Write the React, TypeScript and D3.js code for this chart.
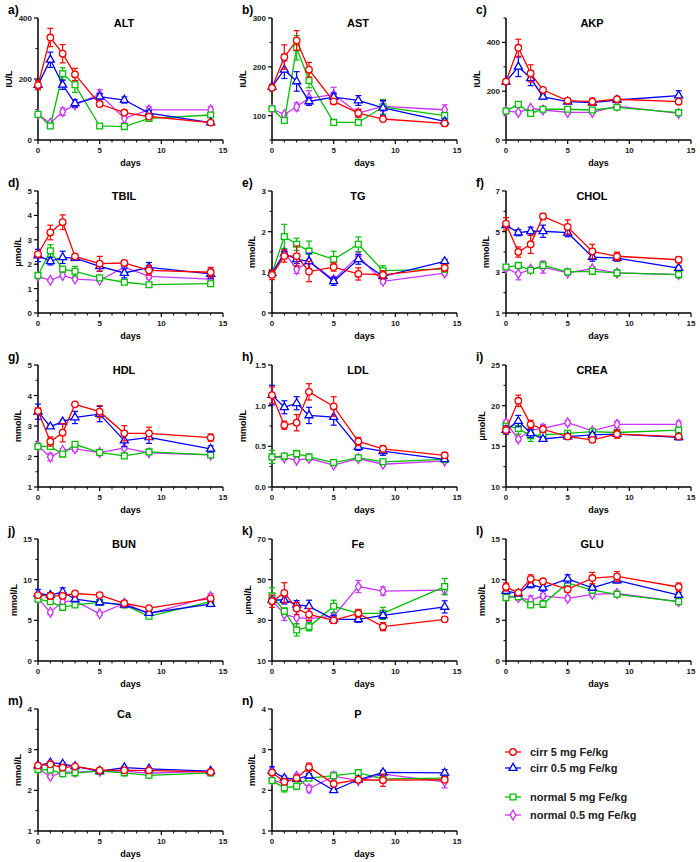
import React from 'react';
import * as d3 from 'd3';

// ---------- data ----------
const days = [0, 1, 2, 3, 5, 7, 9, 14];
const seriesNames = ['cirr 5 mg Fe/kg', 'cirr 0.5 mg Fe/kg', 'normal 5 mg Fe/kg', 'normal 0.5 mg Fe/kg'];

// each: [cirr 5, cirr 0.5, normal 5, normal 0.5]
const altMean = [[180, 336, 283, 215, 118, 90, 77, 57], [180, 263, 181, 120, 142, 131, 88, 57], [84, 46, 217, 181, 46, 44, 71, 82], [84, 55, 93, 115, 150, 71, 99, 99]];
const altErr = [[15, 30, 30, 20, 8, 5, 5, 5], [10, 25, 15, 12, 10, 10, 8, 5], [5, 5, 20, 25, 3, 3, 8, 8], [5, 5, 12, 8, 15, 15, 10, 10]];

const astMean = [[157, 220, 254, 194, 129, 105, 93, 84], [159, 194, 170, 129, 138, 131, 116, 88], [114, 90, 239, 172, 86, 86, 118, 100], [114, 102, 118, 136, 143, 105, 119, 112]];
const astErr = [[5, 25, 20, 15, 5, 8, 3, 5], [5, 18, 20, 8, 8, 10, 15, 5], [5, 5, 25, 15, 3, 5, 15, 5], [5, 3, 8, 15, 15, 8, 10, 10]];

const akpMean = [[239, 378, 273, 205, 161, 157, 167, 157], [239, 300, 253, 177, 157, 153, 164, 182], [119, 146, 109, 126, 126, 123, 134, 112], [119, 113, 130, 123, 113, 113, 139, 109]];
const akpErr = [[10, 35, 35, 8, 5, 15, 10, 8], [8, 40, 30, 10, 5, 10, 8, 20], [5, 8, 10, 5, 5, 5, 5, 5], [5, 5, 5, 5, 5, 5, 5, 5]];

const tbilMean = [[2.41, 3.3, 3.72, 2.32, 2.02, 2.05, 1.75, 1.67], [2.36, 2.12, 2.28, 2.25, 1.91, 1.64, 1.87, 1.6], [1.54, 2.55, 1.8, 1.71, 1.44, 1.26, 1.16, 1.2], [1.5, 1.34, 1.54, 1.39, 1.34, 1.88, 1.5, 1.39]];
const tbilErr = [[0.1, 0.3, 0.3, 0.1, 0.3, 0.1, 0.2, 0.2], [0.25, 0.15, 0.25, 0.1, 0.2, 0.2, 0.2, 0.2], [0.05, 0.25, 0.05, 0.2, 0.05, 0.05, 0.05, 0.05], [0.05, 0.05, 0.05, 0.05, 0.05, 0.05, 0.1, 0.05]];

const tgMean = [[0.94, 1.4, 1.4, 1.02, 1.13, 0.96, 0.94, 1.11], [0.98, 1.46, 1.32, 1.27, 0.78, 1.32, 0.9, 1.27], [0.98, 1.88, 1.69, 1.52, 1.32, 1.69, 1.04, 1.08], [0.96, 1.5, 1.07, 1.27, 0.82, 1.4, 0.78, 0.98]];
const tgErr = [[0.12, 0.15, 0.25, 0.25, 0.1, 0.15, 0.1, 0.08], [0.05, 0.05, 0.1, 0.2, 0.1, 0.12, 0.05, 0.05], [0.05, 0.3, 0.15, 0.25, 0.2, 0.18, 0.12, 0.05], [0.05, 0.05, 0.1, 0.05, 0.05, 0.1, 0.05, 0.05]];

const cholMean = [[5.39, 4.0, 4.38, 5.75, 5.23, 4.03, 3.79, 3.62], [5.31, 4.95, 5.02, 5.02, 4.95, 3.75, 3.7, 3.21], [3.26, 3.34, 3.1, 3.34, 3.02, 3.05, 2.97, 2.89], [3.21, 2.93, 3.15, 3.26, 2.97, 3.18, 2.97, 2.89]];
const cholErr = [[0.3, 0.25, 0.45, 0.15, 0.35, 0.35, 0.2, 0.15], [0.1, 0.15, 0.2, 0.3, 0.2, 0.2, 0.15, 0.1], [0.1, 0.1, 0.1, 0.15, 0.1, 0.1, 0.15, 0.15], [0.1, 0.3, 0.1, 0.3, 0.1, 0.1, 0.1, 0.1]];

const hdlMean = [[3.49, 2.49, 2.78, 3.71, 3.47, 2.76, 2.76, 2.62], [3.47, 2.98, 3.14, 3.28, 3.39, 2.52, 2.63, 2.25], [2.33, 2.33, 2.08, 2.4, 2.13, 2.02, 2.15, 2.05], [2.35, 1.98, 2.2, 2.25, 2.13, 2.28, 2.12, 2.05]];
const hdlErr = [[0.1, 0.15, 0.3, 0.05, 0.2, 0.25, 0.2, 0.12], [0.25, 0.05, 0.05, 0.2, 0.25, 0.2, 0.2, 0.1], [0.05, 0.05, 0.05, 0.05, 0.05, 0.05, 0.05, 0.05], [0.05, 0.12, 0.05, 0.08, 0.05, 0.05, 0.05, 0.05]];

const ldlMean = [[1.13, 0.76, 0.79, 1.17, 0.99, 0.56, 0.47, 0.39], [1.13, 0.98, 1.03, 0.88, 0.86, 0.49, 0.44, 0.34], [0.37, 0.38, 0.41, 0.37, 0.3, 0.36, 0.31, 0.34], [0.37, 0.36, 0.33, 0.35, 0.27, 0.35, 0.28, 0.32]];
const ldlErr = [[0.1, 0.05, 0.1, 0.1, 0.12, 0.05, 0.04, 0.03], [0.12, 0.08, 0.08, 0.1, 0.1, 0.04, 0.05, 0.02], [0.08, 0.02, 0.04, 0.02, 0.02, 0.02, 0.02, 0.02], [0.02, 0.02, 0.02, 0.02, 0.02, 0.02, 0.02, 0.02]];

const creaMean = [[17.0, 20.6, 17.7, 17.1, 16.2, 15.8, 16.5, 16.2], [17.0, 18.1, 16.6, 15.9, 16.2, 16.4, 16.5, 16.1], [17.5, 17.2, 16.3, 16.4, 16.6, 16.8, 16.7, 17.0], [17.9, 15.9, 17.0, 17.2, 17.9, 16.9, 17.7, 17.7]];
const creaErr = [[0.4, 0.7, 0.5, 0.4, 0.3, 0.3, 0.5, 0.3], [0.5, 0.7, 0.5, 0.3, 0.3, 0.3, 0.3, 0.3], [0.3, 0.7, 0.7, 0.3, 0.3, 0.3, 0.3, 0.3], [0.3, 0.3, 0.3, 0.5, 0.3, 0.3, 0.4, 0.4]];

const bunMean = [[8.1, 8.0, 8.0, 8.3, 8.1, 7.1, 6.5, 7.7], [8.3, 8.1, 8.5, 7.6, 7.2, 6.9, 5.9, 7.0], [7.6, 7.3, 6.6, 6.9, 7.2, 6.9, 5.5, 7.3], [7.7, 6.0, 7.3, 7.4, 5.8, 7.1, 5.8, 7.9]];
const bunErr = [[0.3, 0.4, 0.3, 0.2, 0.3, 0.2, 0.2, 0.3], [0.5, 0.3, 0.5, 0.3, 0.3, 0.2, 0.2, 0.3], [0.3, 0.3, 0.3, 0.2, 0.3, 0.2, 0.2, 0.3], [0.3, 0.3, 0.3, 0.2, 0.2, 0.3, 0.2, 0.4]];

const feMean = [[39.4, 43.5, 35.8, 32.9, 30.0, 33.4, 26.9, 30.5], [40, 40, 37.7, 36.9, 30.5, 30.5, 32.4, 36.6], [42, 34.5, 25.3, 26.8, 36.9, 33.4, 33.4, 46.6], [40, 32.9, 31.3, 30.8, 32.1, 46.6, 44.4, 44.9]];
const feErr = [[3, 5, 3, 3, 1.5, 2, 2, 1], [1, 2, 2, 3, 2, 1.5, 1.5, 3], [4, 1.5, 3, 2, 3, 1.5, 3, 4], [2, 3, 3, 1.5, 1.5, 3, 2, 2]];

const gluMean = [[9.1, 8.4, 10.1, 9.8, 8.8, 10.2, 10.4, 9.1], [8.6, 8.3, 9.4, 9.0, 10.1, 9.0, 9.9, 8.1], [7.8, 7.9, 6.9, 7.0, 9.6, 8.7, 8.2, 7.3], [8.0, 7.8, 7.5, 8.0, 7.7, 8.2, 8.3, 7.3]];
const gluErr = [[0.5, 0.3, 0.5, 0.3, 0.3, 0.7, 0.6, 0.5], [0.3, 0.3, 0.4, 0.4, 0.5, 0.3, 0.3, 0.3], [0.3, 0.3, 0.3, 0.4, 0.6, 0.4, 0.3, 0.3], [0.3, 0.3, 0.5, 0.3, 0.3, 0.3, 0.3, 0.3]];

const caMean = [[2.61, 2.64, 2.56, 2.59, 2.49, 2.49, 2.49, 2.45], [2.61, 2.68, 2.65, 2.59, 2.47, 2.56, 2.53, 2.47], [2.51, 2.5, 2.41, 2.43, 2.47, 2.43, 2.37, 2.43], [2.53, 2.34, 2.45, 2.45, 2.47, 2.47, 2.42, 2.47]];
const caErr = [[0.03, 0.03, 0.03, 0.03, 0.03, 0.03, 0.03, 0.03], [0.03, 0.03, 0.03, 0.03, 0.03, 0.03, 0.03, 0.03], [0.03, 0.03, 0.03, 0.03, 0.03, 0.03, 0.03, 0.03], [0.03, 0.03, 0.03, 0.03, 0.03, 0.03, 0.03, 0.03]];

const pMean = [[2.44, 2.21, 2.3, 2.57, 2.16, 2.26, 2.25, 2.26], [2.48, 2.3, 2.28, 2.36, 2.0, 2.26, 2.44, 2.43], [2.24, 2.06, 2.1, 2.3, 2.36, 2.43, 2.28, 2.3], [2.26, 2.16, 2.35, 2.04, 2.35, 2.24, 2.4, 2.21]];
const pErr = [[0.05, 0.05, 0.05, 0.1, 0.05, 0.05, 0.15, 0.05], [0.1, 0.05, 0.05, 0.05, 0.05, 0.05, 0.05, 0.08], [0.05, 0.1, 0.08, 0.05, 0.05, 0.08, 0.05, 0.05], [0.05, 0.05, 0.05, 0.08, 0.1, 0.05, 0.05, 0.15]];

const panelLetters = ['a)', 'b)', 'c)', 'd)', 'e)', 'f)', 'g)', 'h)', 'i)', 'j)', 'k)', 'l)', 'm)', 'n)'];
const panelTitles = ['ALT', 'AST', 'AKP', 'TBIL', 'TG', 'CHOL', 'HDL', 'LDL', 'CREA', 'BUN', 'Fe', 'GLU', 'Ca', 'P'];
const panelUnits = ['IU/L', 'IU/L', 'IU/L', 'μmol/L', 'mmol/L', 'mmol/L', 'mmol/L', 'mmol/L', 'μmol/L', 'mmol/L', 'μmol/L', 'mmol/L', 'mmol/L', 'mmol/L'];
const yDomains = [[0, 400], [50, 300], [0, 500], [0, 5], [0, 3], [1, 7], [1, 5], [0, 1.5], [10, 25], [0, 15], [10, 70], [0, 15], [1, 4], [1, 4]];
const yTicks = [[0, 200, 400], [100, 200, 300], [0, 200, 400], [0, 1, 2, 3, 4, 5], [0, 1, 2, 3], [1, 3, 5, 7], [1, 2, 3, 4, 5], [0, 0.5, 1, 1.5], [10, 15, 20, 25], [0, 5, 10, 15], [10, 30, 50, 70], [0, 5, 10, 15], [1, 2, 3, 4], [1, 2, 3, 4]];
const yTickFormats = ['d', 'd', 'd', 'd', 'd', 'd', 'd', '.1f', 'd', 'd', 'd', 'd', 'd', 'd'];
const xTicks = [0, 5, 10, 15];
const panelMeans = [altMean, astMean, akpMean, tbilMean, tgMean, cholMean, hdlMean, ldlMean, creaMean, bunMean, feMean, gluMean, caMean, pMean];
const panelErrs = [altErr, astErr, akpErr, tbilErr, tgErr, cholErr, hdlErr, ldlErr, creaErr, bunErr, feErr, gluErr, caErr, pErr];

// ---------- styles / layout ----------
const COLORS = ['#ff0000', '#0000ff', '#00c000', '#cc33ff'];
const SYMBOLS = [d3.symbolCircle, d3.symbolTriangle, d3.symbolSquare, d3.symbolDiamond];
const SYMBOL_SIZES = [34, 28, 34, 28];
const FONT = '"Liberation Sans", Arial, sans-serif';
const colX = [38, 272, 506];
const rowTop = [18, 191, 365, 539, 709];
const plotW = 185;
const plotH = 122;

function Panel({ idx }: { idx: number }) {
  const col = idx % 3;
  const row = Math.floor(idx / 3);
  const x0 = colX[col];
  const top = rowTop[row];
  const bottom = top + plotH;
  const dom = yDomains[idx];
  const x = d3.scaleLinear().domain([0, 15]).range([x0, x0 + plotW]);
  const y = d3.scaleLinear().domain(dom).range([bottom, top]);
  const major = yTicks[idx];
  const minor: number[] = [];
  for (let i = 0; i < major.length - 1; i++) minor.push((major[i] + major[i + 1]) / 2);
  if (dom[0] < major[0]) minor.push(dom[0]);
  if (dom[1] > major[major.length - 1]) minor.push(dom[1]);
  const fmt = d3.format(yTickFormats[idx]);
  const maxLen = d3.max(major, (t) => fmt(t).length) as number;
  const labelX = x0 - (8 + 4.6 * maxLen + 4);
  const xMinor = d3.range(0, 16).filter((d) => d % 5 !== 0);
  const line = d3.line<number>().x((_, i) => x(days[i])).y((v) => y(v));
  const means = panelMeans[idx];
  const errs = panelErrs[idx];
  const order = [3, 2, 1, 0];
  return (
    <g>
      <text x={x0 - 30} y={top - 4} fontSize={12} fontWeight="bold" fontFamily={FONT}>{panelLetters[idx]}</text>
      <text x={x0 + 86} y={top + 9} fontSize={11} fontWeight="bold" fontFamily={FONT} textAnchor="middle">{panelTitles[idx]}</text>
      <text transform={`translate(${labelX},${(top + bottom) / 2}) rotate(-90)`} fontSize={9} fontWeight="bold" fontFamily={FONT} textAnchor="middle">{panelUnits[idx]}</text>
      {/* axes */}
      <line x1={x0} x2={x0} y1={top} y2={bottom} stroke="#000" strokeWidth={1.5} />
      <line x1={x0} x2={x0 + plotW} y1={bottom} y2={bottom} stroke="#000" strokeWidth={1.5} />
      {major.map((t) => (
        <g key={'ym' + t}>
          <line x1={x0 - 4} x2={x0} y1={y(t)} y2={y(t)} stroke="#000" strokeWidth={1.2} />
          <text x={x0 - 6} y={y(t) + 3} fontSize={8} fontWeight="bold" fontFamily={FONT} textAnchor="end" fill="#222">{fmt(t)}</text>
        </g>
      ))}
      {minor.map((t) => (
        <line key={'yn' + t} x1={x0 - 2.5} x2={x0} y1={y(t)} y2={y(t)} stroke="#000" strokeWidth={1} />
      ))}
      {xTicks.map((t) => (
        <g key={'xm' + t}>
          <line x1={x(t)} x2={x(t)} y1={bottom} y2={bottom + 4} stroke="#000" strokeWidth={1.2} />
          <text x={x(t)} y={bottom + 13} fontSize={8} fontWeight="bold" fontFamily={FONT} textAnchor="middle" fill="#222">{t}</text>
        </g>
      ))}
      {xMinor.map((t) => (
        <line key={'xn' + t} x1={x(t)} x2={x(t)} y1={bottom} y2={bottom + 2.5} stroke="#000" strokeWidth={1} />
      ))}
      <text x={x(7.5)} y={bottom + 26} fontSize={9} fontWeight="bold" fontFamily={FONT} textAnchor="middle">days</text>
      {/* series */}
      {order.map((s) => (
        <g key={'s' + s}>
          <path d={line(means[s]) || ''} fill="none" stroke={COLORS[s]} strokeWidth={1.3} />
          {means[s].map((v, i) => {
            const cx = x(days[i]);
            const e = errs[s][i];
            return (
              <g key={i}>
                <line x1={cx} x2={cx} y1={y(v - e)} y2={y(v + e)} stroke={COLORS[s]} strokeWidth={1.2} />
                <line x1={cx - 3} x2={cx + 3} y1={y(v + e)} y2={y(v + e)} stroke={COLORS[s]} strokeWidth={1.2} />
                <line x1={cx - 3} x2={cx + 3} y1={y(v - e)} y2={y(v - e)} stroke={COLORS[s]} strokeWidth={1.2} />
                <path
                  d={d3.symbol().type(SYMBOLS[s]).size(SYMBOL_SIZES[s])() || ''}
                  transform={`translate(${cx},${y(v)})`}
                  fill="#fff"
                  stroke={COLORS[s]}
                  strokeWidth={1.3}
                />
              </g>
            );
          })}
        </g>
      ))}
    </g>
  );
}

function Legend() {
  const ys = [752, 768, 797, 815];
  return (
    <g>
      {seriesNames.map((n, s) => (
        <g key={n}>
          <line x1={505} x2={521} y1={ys[s]} y2={ys[s]} stroke={COLORS[s]} strokeWidth={1.3} />
          <path
            d={d3.symbol().type(SYMBOLS[s]).size(SYMBOL_SIZES[s])() || ''}
            transform={`translate(513,${ys[s]})`}
            fill="#fff"
            stroke={COLORS[s]}
            strokeWidth={1.3}
          />
          <text x={530} y={ys[s] + 4} fontSize={11} fontWeight="bold" fontFamily={FONT} fill="#222">{n}</text>
        </g>
      ))}
    </g>
  );
}

export default function App() {
  return (
    <svg width={700} height={862} style={{ position: 'absolute', left: 0, top: 0, background: '#fff' }}>
      <rect width={700} height={862} fill="#fff" />
      {panelTitles.map((_, i) => (
        <Panel key={i} idx={i} />
      ))}
      <Legend />
    </svg>
  );
}
